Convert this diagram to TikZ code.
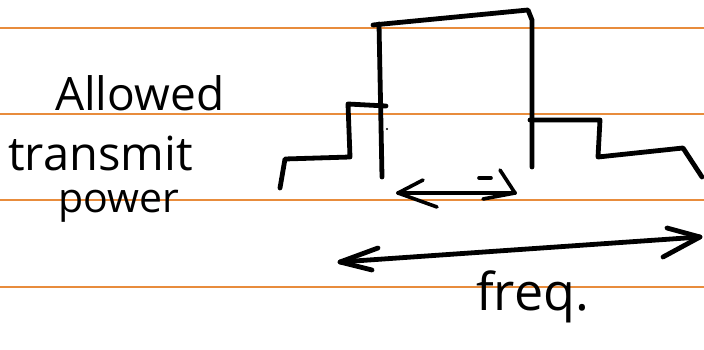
\documentclass[tikz,border=0pt]{standalone}
\usepackage{fontspec}
\setmainfont{Open Sans}
\begin{document}
\begin{tikzpicture}[x=1pt,y=-1pt,
  rule/.style={draw={rgb,255:red,232;green,140;blue,60}, line width=2pt},
  pen/.style={draw=black, line width=4.8pt, line join=round, line cap=round},
  thinpen/.style={draw=black, line width=3.6pt, line join=round, line cap=round},
  hand/.style={inner sep=0pt, anchor=base west, text=black}]
\useasboundingbox (0,0) rectangle (704,350);
\fill[white] (0,0) rectangle (704,350);
% ruled lines
\foreach \yy in {28,114,200,287} \draw[rule] (0,\yy) -- (704,\yy);
% spectrum mask
\draw[pen] (280,188) -- (285,159) -- (350,157) -- (348,104) -- (386,106);
\draw[pen] (373,25) -- (528,10) -- (532,20) -- (532,167);
\draw[pen] (379,24) -- (382,177);
\draw[pen] (530,120) -- (600,120) -- (598,157) -- (683,148) -- (702,177);
\fill (387,129) circle (1.2pt);
% small arrow
\coordinate (sa) at (398,193);
\coordinate (sb) at (515,193);
\draw[thinpen] (sa) -- (sb);
\draw[thinpen] (423,180) -- (sa) -- (437,207);
\draw[thinpen] (500,170) -- (sb) -- (483,199);
\draw[thinpen] (479,178) -- (491,178);
% big arrow
\coordinate (ba) at (340,262);
\coordinate (bb) at (700,237);
\draw[pen] (ba) -- (bb);
\draw[pen] (378,248) -- (ba) -- (372,270);
\draw[pen] (667,228) -- (bb) -- (663,257);
% labels
\node[hand, font=\fontsize{46}{46}\selectfont] (allowed) at (55,111) {Allowed};
\node[hand, font=\fontsize{47}{47}\selectfont] (transmit) at (8,170) {transmit};
\node[hand, font=\fontsize{41}{41}\selectfont] (power) at (58,212) {power};
\node[hand, font=\fontsize{52}{52}\selectfont] (freq) at (476,310) {freq.};
\end{tikzpicture}
\end{document}
